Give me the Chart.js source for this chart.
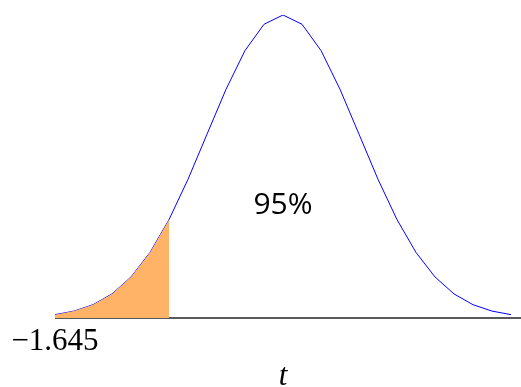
<!DOCTYPE html>
<html>
<head>
<meta charset="utf-8">
<script src="https://cdn.jsdelivr.net/npm/chart.js@4.4.1/dist/chart.umd.min.js"></script>
<style>
  html, body { margin: 0; padding: 0; background: #fff; }
  #wrap { width: 521px; height: 387px; }
</style>
</head>
<body>
<div id="wrap"><canvas id="c"></canvas></div>
<script>
// Sample positions (t) and read-off density values
const tValues = [-3, -2.75, -2.5, -2.25, -2, -1.75, -1.5, -1.25, -1, -0.75, -0.5, -0.25, 0,
                 0.25, 0.5, 0.75, 1, 1.25, 1.5, 1.75, 2, 2.25, 2.5, 2.75, 3];
const density = [0.0044, 0.0091, 0.0175, 0.0317, 0.0540, 0.0863, 0.1295, 0.1826, 0.2420, 0.3011, 0.3521, 0.3867, 0.3989,
                 0.3867, 0.3521, 0.3011, 0.2420, 0.1826, 0.1295, 0.0863, 0.0540, 0.0317, 0.0175, 0.0091, 0.0044];
// Shaded tail (left part of the curve)
const tailT = [-3, -2.75, -2.5, -2.25, -2, -1.75, -1.5];
const tailDensity = [0.0044, 0.0091, 0.0175, 0.0317, 0.0540, 0.0863, 0.1295];
// Tick label
const tickValues = [-3];
const tickLabels = ["\u22121.645"];
const areaLabel = "95%";
const axisTitle = "t";

const curvePts = tValues.map((x, i) => ({x, y: density[i]}));
const tailPts = tailT.map((x, i) => ({x, y: tailDensity[i]}));

const overlay = {
  id: 'overlay',
  beforeDatasetsDraw(chart) {
    const {ctx, chartArea, scales} = chart;
    const y0 = scales.y.getPixelForValue(0);
    ctx.save();
    ctx.strokeStyle = '#222';
    ctx.lineWidth = 1.5;
    ctx.beginPath();
    ctx.moveTo(chartArea.left, y0);
    ctx.lineTo(chart.width, y0);
    ctx.stroke();
    ctx.restore();
  },
  afterDatasetsDraw(chart) {
    const {ctx, scales} = chart;
    ctx.save();
    ctx.font = '30px "Open Sans"';
    ctx.fillStyle = '#000';
    ctx.textAlign = 'center';
    ctx.textBaseline = 'middle';
    ctx.fillText(areaLabel, scales.x.getPixelForValue(0), scales.y.getPixelForValue(0.148));
    ctx.restore();
  }
};

new Chart(document.getElementById('c'), {
  type: 'line',
  data: {
    datasets: [
      {
        data: tailPts,
        borderWidth: 0,
        borderColor: 'rgba(0,0,0,0)',
        backgroundColor: '#ffb366',
        fill: 'origin',
        pointRadius: 0,
        tension: 0
      },
      {
        data: curvePts,
        borderColor: '#0000ff',
        borderWidth: 1,
        fill: false,
        pointRadius: 0,
        tension: 0
      }
    ]
  },
  options: {
    responsive: true,
    maintainAspectRatio: false,
    animation: false,
    events: [],
    layout: { padding: { left: 55, right: 10, top: 15, bottom: 0 } },
    plugins: { legend: { display: false }, tooltip: { enabled: false } },
    scales: {
      x: {
        type: 'linear',
        min: -3, max: 3,
        grid: { display: false, drawTicks: false },
        border: { display: false },
        afterBuildTicks(axis) { axis.ticks = tickValues.map(v => ({value: v})); },
        ticks: {
          autoSkip: false,
          maxRotation: 0,
          padding: 8,
          color: '#000',
          font: { family: '"Liberation Serif", serif', size: 31, lineHeight: 1 },
          callback(v) { const i = tickValues.indexOf(v); return i >= 0 ? tickLabels[i] : ''; }
        },
        title: {
          display: true,
          text: axisTitle,
          color: '#000',
          font: { family: '"Liberation Serif", serif', size: 31, style: 'italic', lineHeight: 1 },
          padding: { top: -4, bottom: -5 }
        }
      },
      y: {
        display: false,
        min: 0, max: 0.3989
      }
    }
  },
  plugins: [overlay]
});
</script>
</body>
</html>
